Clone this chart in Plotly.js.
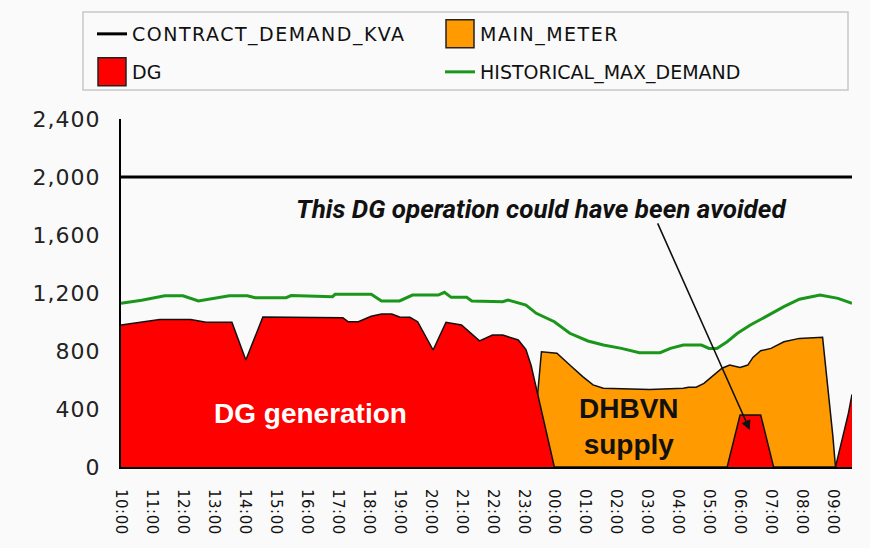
<!DOCTYPE html>
<html>
<head>
<meta charset="utf-8">
<script src="https://cdn.plot.ly/plotly-3.0.1.min.js"></script>
<style>
  html, body { margin: 0; padding: 0; background: #fafafa; }
  #chart { width: 870px; height: 548px; }
  .legendtext { letter-spacing: 1.5px; }
  .ytick text { letter-spacing: 1px; }
  .xtick text { letter-spacing: 0.5px; }
</style>
</head>
<body>
<div id="chart"></div>
<script>
// ---------- DATA ----------
const hourTicks = ["10:00","11:00","12:00","13:00","14:00","15:00","16:00","17:00","18:00","19:00","20:00","21:00","22:00","23:00","00:00","01:00","02:00","03:00","04:00","05:00","06:00","07:00","08:00","09:00"];

const contractTimes = ["10:00","09:37"];
const contractKva   = [2000, 2000];

const dgTimes = ["10:00","10:50","11:15","12:15","12:45","13:35","14:02","14:35","15:00","16:00","17:10","17:20","17:40","18:05","18:25","18:45","19:00","19:20","19:35","20:05","20:30","21:00","21:15","21:35","22:00","22:20","22:50","23:05","23:15","23:30","23:45","00:00","05:35","06:00","06:40","07:05","09:05","09:30","09:37"];
const dgKva   = [980, 1002, 1018, 1018, 998, 998, 738, 1034, 1034, 1032, 1030, 1002, 1002, 1040, 1055, 1055, 1035, 1032, 1002, 807, 998, 980, 935, 870, 910, 910, 876, 810, 700, 460, 240, 0, 0, 359, 359, 0, 0, 370, 500];

const mainTimes = ["10:00","23:15","23:35","00:05","00:30","00:55","01:15","01:35","03:05","04:10","04:20","04:35","04:50","05:05","05:25","05:40","06:00","06:15","06:25","06:40","07:00","07:25","07:55","08:40","08:45","08:50","08:55","09:00","09:05","09:37"];
const mainKva   = [0, 0, 795, 784, 703, 623, 566, 543, 535, 543, 550, 550, 577, 623, 681, 703, 687, 703, 756, 802, 818, 864, 887, 894, 720, 580, 370, 209, 0, 0];

const histTimes = ["10:00","10:40","11:25","12:00","12:30","13:30","14:05","14:20","15:20","15:30","16:50","16:55","18:05","18:25","19:00","19:25","20:15","20:27","20:40","21:10","21:20","22:20","22:30","23:05","23:25","00:00","00:30","01:05","01:35","02:10","02:45","03:25","03:45","04:10","04:45","05:00","05:15","05:35","05:55","06:20","06:50","07:25","07:55","08:35","09:10","09:37"];
const histKva   = [1129, 1150, 1181, 1181, 1145, 1181, 1181, 1168, 1168, 1182, 1175, 1191, 1191, 1145, 1145, 1186, 1186, 1205, 1170, 1170, 1145, 1140, 1152, 1117, 1060, 1002, 922, 869, 841, 818, 788, 788, 818, 841, 841, 818, 818, 864, 922, 979, 1037, 1106, 1157, 1186, 1163, 1129];

const seriesNames = ["CONTRACT_DEMAND_KVA", "MAIN_METER", "DG", "HISTORICAL_MAX_DEMAND"];

// ---------- helpers ----------
function toDate(t) {
  const h = parseInt(t.slice(0, 2), 10);
  return (h < 10 ? "2024-01-02 " : "2024-01-01 ") + t;
}
const D = arr => arr.map(toDate);

const RED = "#ff0000", ORANGE = "#ff9a00", GREEN = "#1a961a";

// zero-height, hairline-width bars used only as legend swatches
function swatch(name, color, legend, rank) {
  return {
    x: [toDate(mainTimes[0])], y: [0], width: [1], type: "bar", name: name,
    marker: { color: color, line: { color: "#222", width: 1.5 } },
    legend: legend, legendrank: rank, hoverinfo: "skip"
  };
}

const traces = [
  { // main meter area
    x: D(mainTimes), y: mainKva, type: "scatter", mode: "lines",
    fill: "tozeroy", fillcolor: ORANGE, line: { color: "#111", width: 1.5 },
    name: seriesNames[1], showlegend: false, hoverinfo: "skip"
  },
  { // DG area
    x: D(dgTimes), y: dgKva, type: "scatter", mode: "lines",
    fill: "tozeroy", fillcolor: RED, line: { color: "#111", width: 1.5 },
    name: seriesNames[2], showlegend: false, hoverinfo: "skip"
  },
  { // contract demand
    x: D(contractTimes), y: contractKva, type: "scatter", mode: "lines",
    line: { color: "#000", width: 3 }, name: seriesNames[0],
    legend: "legend", legendrank: 1
  },
  { // historical max
    x: D(histTimes), y: histKva, type: "scatter", mode: "lines",
    line: { color: GREEN, width: 3 }, name: seriesNames[3],
    legend: "legend2", legendrank: 2
  },
  swatch(seriesNames[1], ORANGE, "legend", 2),
  swatch(seriesNames[2], RED, "legend2", 1)
];

const L = 121, R = 852, T = 119, B = 467, W = 870, H = 548;
const px2x = p => (p - L) / (R - L);
const px2y = p => (B - p) / (B - T);

const legendFont = { family: "DejaVu Sans", size: 19, color: "#111" };
const legendCommon = {
  orientation: "h", xanchor: "left", yanchor: "middle",
  entrywidth: 303, entrywidthmode: "pixels",
  bgcolor: "rgba(0,0,0,0)", borderwidth: 0, font: legendFont,
  traceorder: "normal"
};

const layout = {
  width: W, height: H,
  margin: { l: L, r: W - R, t: T, b: H - B, pad: 0 },
  paper_bgcolor: "#fafafa", plot_bgcolor: "#fafafa",
  showlegend: true, bargap: 0,
  legend: Object.assign({}, legendCommon, { x: px2x(92), y: px2y(34) }),
  legend2: Object.assign({}, legendCommon, { x: px2x(92), y: px2y(72) }),
  xaxis: {
    type: "date",
    range: [toDate("10:00"), toDate("09:37")],
    tickmode: "array",
    tickvals: D(hourTicks), ticktext: hourTicks,
    tickangle: 90,
    tickfont: { family: "DejaVu Sans", size: 15, color: "#111" },
    ticks: "", ticklabelstandoff: 17,
    showgrid: false, zeroline: false,
    showline: true, linecolor: "#000", linewidth: 2
  },
  yaxis: {
    range: [0, 2400],
    tickmode: "linear", tick0: 0, dtick: 400,
    tickformat: ",d",
    tickfont: { family: "DejaVu Sans", size: 22, color: "#222" },
    ticks: "", ticklabelstandoff: 14,
    showgrid: false, zeroline: false,
    showline: true, linecolor: "#000", linewidth: 2
  },
  shapes: [{
    type: "rect", xref: "paper", yref: "paper",
    x0: px2x(83), x1: px2x(848), y0: px2y(90), y1: px2y(12),
    line: { color: "#c8c8c8", width: 1.5 }, fillcolor: "rgba(0,0,0,0)"
  }],
  annotations: [
    {
      x: toDate("16:08"), y: 372, xref: "x", yref: "y",
      text: "<b>DG generation</b>", showarrow: false,
      font: { family: "Liberation Sans", size: 28, color: "#fff" }
    },
    {
      x: toDate("02:25"), y: 276, xref: "x", yref: "y",
      text: "<b>DHBVN<br>supply</b>", showarrow: false,
      font: { family: "Liberation Sans", size: 28, color: "#111" }
    },
    {
      x: toDate("23:34"), y: 1779, xref: "x", yref: "y",
      text: "<b><i>This DG operation could have been avoided</i></b>", showarrow: false,
      font: { family: "Roboto", size: 26, color: "#111" }
    },
    {
      x: toDate("06:19"), y: 255, xref: "x", yref: "y",
      ax: toDate("03:19"), ay: 1690, axref: "x", ayref: "y",
      text: "", showarrow: true, arrowhead: 2, arrowsize: 1.2, arrowwidth: 1.6,
      arrowcolor: "#111", standoff: 0
    }
  ]
};

function enlargeSwatches() {
  document.querySelectorAll(".legendpoints path").forEach(p => {
    const d = (p.getAttribute("d") || "").replace(/\s/g, "");
    if (/^M6,6H-6V-6H6Z$/i.test(d) || p.classList.contains("legendbar")) {
      p.setAttribute("d", "M14,14H-14V-14H14Z");
    }
  });
}

Plotly.newPlot("chart", traces, layout, { displayModeBar: false, staticPlot: true }).then(() => {
  enlargeSwatches();
  setTimeout(enlargeSwatches, 0);
  setTimeout(enlargeSwatches, 50);
});
</script>
</body>
</html>
